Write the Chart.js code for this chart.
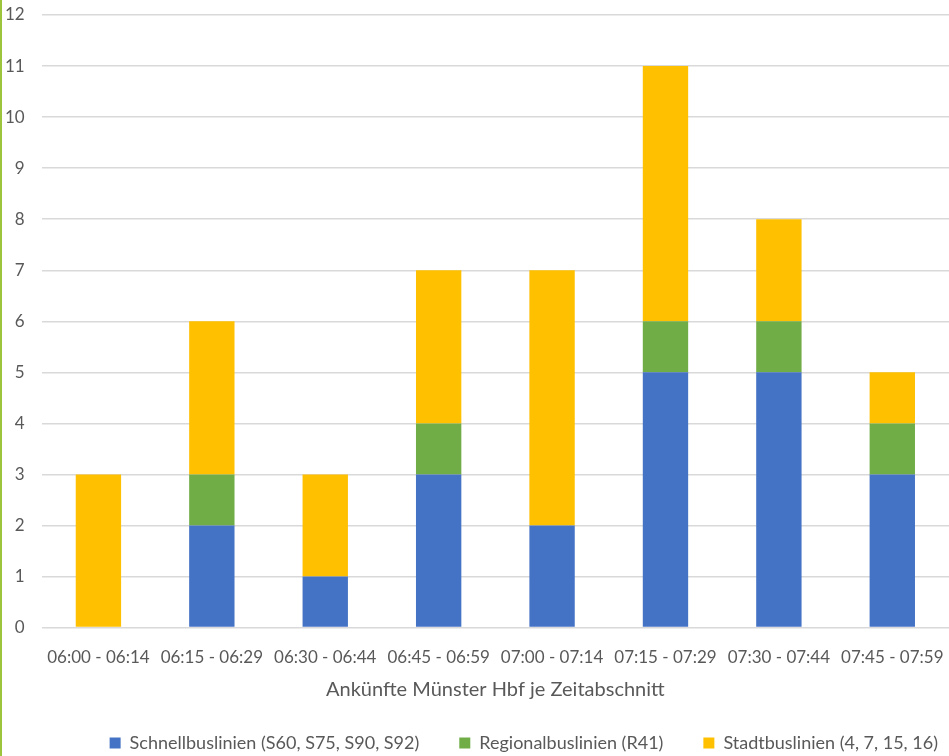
<!DOCTYPE html>
<html lang="de">
<head>
<meta charset="utf-8">
<title>Ankünfte Münster Hbf je Zeitabschnitt</title>
<script src="https://cdn.jsdelivr.net/npm/chart.js@4/dist/chart.umd.min.js"></script>
<style>
  html, body { margin: 0; padding: 0; background: #ffffff; overflow: hidden; }
  #wrap { width: 947px; height: 756px; border-left: 2px solid #9cc43c; position: relative; }
  canvas { display: block; }
</style>
</head>
<body>
<div id="wrap"><canvas id="chart" width="947" height="756"></canvas></div>
<script>
// Time slots (quarter hours) of arrivals at Münster Hbf
const categories = ['06:00 - 06:14', '06:15 - 06:29', '06:30 - 06:44', '06:45 - 06:59',
                    '07:00 - 07:14', '07:15 - 07:29', '07:30 - 07:44', '07:45 - 07:59'];

// Arrivals per line group
const schnellbus = [0, 2, 1, 3, 2, 5, 5, 3];
const regionalbus = [0, 1, 0, 1, 0, 1, 1, 1];
const stadtbus = [3, 3, 2, 3, 5, 5, 2, 1];

const seriesNames = ['Schnellbuslinien (S60, S75, S90, S92)', 'Regionalbuslinien (R41)', 'Stadtbuslinien (4, 7, 15, 16)'];
const yTicks = [0, 1, 2, 3, 4, 5, 6, 7, 8, 9, 10, 11, 12];

const textColor = '#595959';
const fontFamily = 'Lato, "Open Sans", sans-serif';

// Nudges the legend row to the right so it sits under the right half of the plot
const legendShift = {
  id: 'legendShift',
  afterLayout(chart) {
    const dx = 29;
    chart.legend.left += dx;
    chart.legend.right += dx;
  }
};

new Chart(document.getElementById('chart'), {
  type: 'bar',
  data: {
    labels: categories,
    datasets: [
      { label: seriesNames[0], data: schnellbus, backgroundColor: '#4472C4' },
      { label: seriesNames[1], data: regionalbus, backgroundColor: '#70AD47' },
      { label: seriesNames[2], data: stadtbus, backgroundColor: '#FFC000' }
    ]
  },
  plugins: [legendShift],
  options: {
    responsive: false,
    animation: false,
    devicePixelRatio: 1,
    layout: { padding: { top: 15, right: 0, left: 3, bottom: -6 } },
    datasets: { bar: { categoryPercentage: 1.0, barPercentage: 0.4, borderWidth: 0 } },
    scales: {
      x: {
        stacked: true,
        grid: { display: false, drawTicks: true, tickLength: 17, tickColor: 'rgba(0,0,0,0)' },
        border: { display: false },
        ticks: { color: textColor, font: { family: fontFamily, size: 17 }, padding: 3, maxRotation: 0, autoSkip: false },
        title: { display: true, text: 'Ankünfte Münster Hbf je Zeitabschnitt', color: textColor,
                 font: { family: fontFamily, size: 20 }, padding: { top: 7, bottom: -8 } }
      },
      y: {
        stacked: true,
        min: yTicks[0],
        max: yTicks[yTicks.length - 1],
        afterBuildTicks: (scale) => { scale.ticks = yTicks.map(v => ({ value: v })); },
        grid: { color: '#d9d9d9', lineWidth: 1.5, drawTicks: true, tickLength: 17, tickColor: 'rgba(0,0,0,0)' },
        border: { display: false },
        ticks: { color: textColor, font: { family: fontFamily, size: 17 }, padding: 0 }
      }
    },
    plugins: {
      tooltip: { enabled: false },
      legend: {
        position: 'bottom',
        align: 'end',
        labels: { color: textColor, font: { family: fontFamily, size: 18 }, boxWidth: 11, boxHeight: 11, padding: 40 }
      }
    }
  }
});
</script>
</body>
</html>
